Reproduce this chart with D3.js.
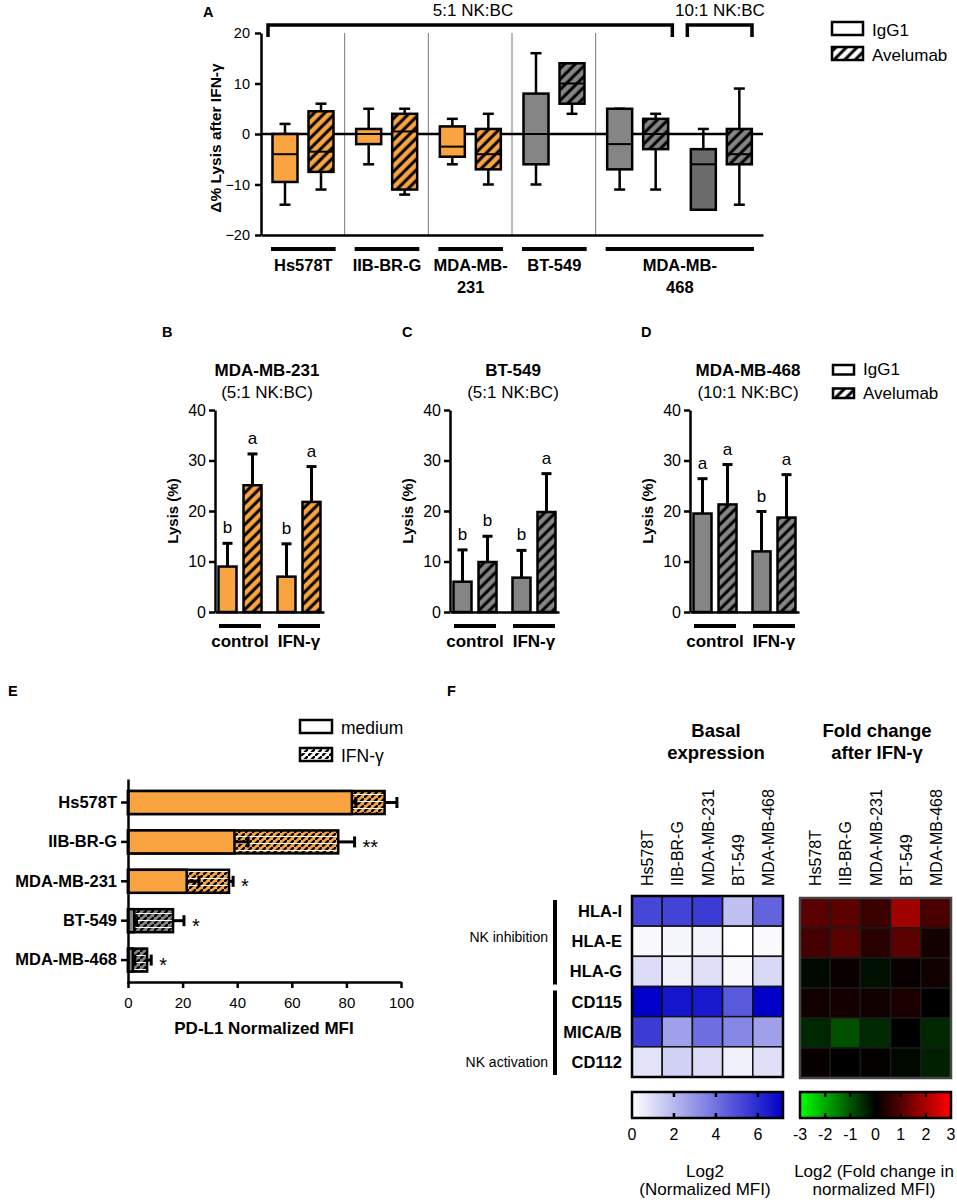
<!DOCTYPE html>
<html><head><meta charset="utf-8">
<script src="https://cdn.jsdelivr.net/npm/d3@7"></script>
<style>
body{margin:0;background:#fff;}
svg text{font-family:"Liberation Sans",Arial,sans-serif;fill:#000;}
</style></head>
<body><svg id="fig" width="957" height="1203"></svg>
<script>
// ---- data ----
const cellLines = ["Hs578T","IIB-BR-G","MDA-MB-231","BT-549","MDA-MB-468"];
const treatments = ["IgG1","Avelumab"];

// A: delta % lysis after IFN-g, boxes [min, q1, median, q3, max]
const slotsA = ["Hs578T","IIB-BR-G","MDA-MB-231","BT-549","MDA-MB-468 5:1","MDA-MB-468 10:1"];
const slotCellA = ["Hs578T","IIB-BR-G","MDA-MB-231","BT-549","MDA-MB-468","MDA-MB-468"];
const igg1Box = [[-14,-9.5,-4,0,2],[-6,-2,0,1,5],[-6,-4.5,-2.5,1.5,3],[-10,-6,0,8,16],[-11,-7,-2,5,5],[-15,-15,-6,-3,1]];
const avelBox = [[-11,-7.5,-3.5,4.5,6],[-12,-11,0.5,4,5],[-10,-7,-4,1,4],[4,6,10,14,14],[-11,-3,0,3,4],[-14,-6,-4,1,9]];
const ticksA = [-20,-10,0,10,20];
const labelLinesA = [["Hs578T"],["IIB-BR-G"],["MDA-MB-","231"],["BT-549"],["MDA-MB-","468"]];
const ratioLabels = ["5:1 NK:BC","10:1 NK:BC"];

// B-D: lysis (%) mean and mean+SD
const panelsBD = ["MDA-MB-231","BT-549","MDA-MB-468"];
const panelRatioBD = ["(5:1 NK:BC)","(5:1 NK:BC)","(10:1 NK:BC)"];
const conditionsBD = ["control","IFN-γ"];
const igg1Mean = [[9,7],[6,6.8],[19.5,12]];
const igg1Top = [[13.6,13.5],[12.3,12.2],[26.4,19.9]];
const avelMean = [[25.1,21.8],[9.9,19.8],[21.3,18.7]];
const avelTop = [[31.3,28.8],[15,27.4],[29.2,27.2]];
const lettersIgg1 = [["b","b"],["b","b"],["a","b"]];
const lettersAvel = [["a","a"],["b","a"],["a","a"]];
const ticksBD = [0,10,20,30,40];

// E: PD-L1 normalized MFI
const mfiMedium = [82,39,21.5,2.3,1.8];
const mfiMediumSd = [1.5,5,4.5,0.8,0.7];
const mfiIfn = [94,77,37,16.5,7];
const mfiIfnSd = [4.5,6,1.5,4,1.5];
const starsE = ["","**","*","*","*"];
const ticksE = [0,20,40,60,80,100];

// F: heatmaps
const markers = ["HLA-I","HLA-E","HLA-G","CD115","MICA/B","CD112"];
const basal = [
  [5.2,5.3,5.5,1.8,4.4],
  [0.2,0.25,0.35,0,0.15],
  [1.0,0.4,0.9,0.2,1.1],
  [7.2,6.6,6.5,4.7,7.2],
  [5.5,2.7,4.1,3.4,2.7],
  [0.8,1.3,1.0,0.4,0.9]];
const foldChange = [
  [1.06,1.08,0.7,1.88,0.87],
  [0.8,1.06,0.47,1.06,0.24],
  [-0.12,0.12,-0.19,0.09,0.19],
  [0.19,0.24,0.19,0.33,0],
  [-0.47,-0.94,-0.49,0,-0.47],
  [0.09,0,0.05,-0.09,-0.38]];
const markerGroups = ["NK inhibition","NK activation"];
const basalTicks = [0,2,4,6];
const foldTicks = [-3,-2,-1,0,1,2,3];

// ---- drawing ----
const svg = d3.select("#fig");
const defs = svg.append("defs");
const ORANGE = "#F9A441", GRAY = "#858585";
const cellColor = d3.scaleOrdinal().domain(cellLines).range([ORANGE,ORANGE,ORANGE,GRAY,GRAY]);

function hatch(id, bg) {
  const p = defs.append("pattern").attr("id", id).attr("patternUnits","userSpaceOnUse")
    .attr("width",7.5).attr("height",7.5).attr("patternTransform","rotate(45)");
  p.append("rect").attr("width",7.5).attr("height",7.5).attr("fill",bg);
  p.append("line").attr("x1",2).attr("x2",2).attr("y1",0).attr("y2",7.5)
    .attr("stroke","#000").attr("stroke-width",3);
}
function brick(id, bg) {
  const p = defs.append("pattern").attr("id", id).attr("patternUnits","userSpaceOnUse")
    .attr("width",7).attr("height",7);
  p.append("rect").attr("width",7).attr("height",7).attr("fill",bg);
  p.append("path").attr("d","M-1,8 L8,-1").attr("stroke","#000").attr("stroke-width",2.4);
  p.append("line").attr("x1",0).attr("x2",7).attr("y1",3.5).attr("y2",3.5)
    .attr("stroke","#fff").attr("stroke-width",1.1);
}
hatch("hOr", ORANGE); hatch("hGr", GRAY); hatch("hWh", "#fff");
brick("bOr", ORANGE); brick("bGr", GRAY); brick("bWh", "#fff");
const hatchId = c => c === ORANGE ? "url(#hOr)" : "url(#hGr)";
const brickId = c => c === ORANGE ? "url(#bOr)" : "url(#bGr)";

function styleAxis(g, size, bold) {
  g.attr("font-family","Liberation Sans, Arial, sans-serif").attr("font-size",size)
   .attr("font-weight", bold ? "bold" : "normal");
  g.selectAll("path.domain, .tick line").attr("stroke","#000").attr("stroke-width",2.5);
}
function panelLabel(t, x, y) {
  svg.append("text").attr("x",x).attr("y",y).attr("font-size",14.5).attr("font-weight","bold").text(t);
}
function legend(x, y, w, h, gap, texts, fills, size) {
  texts.forEach((t,i) => {
    svg.append("rect").attr("x",x).attr("y",y+i*gap).attr("width",w).attr("height",h)
      .attr("fill",fills[i]).attr("stroke","#000").attr("stroke-width",2.5);
    svg.append("text").attr("x",x+w+9).attr("y",y+i*gap+h+0.5).attr("font-size",size).text(t);
  });
}

// ===== Panel A =====
panelLabel("A", 203, 17);
const yA = d3.scaleLinear().domain([-20,20]).range([235,33]);
const xSlot = d3.scaleBand().domain(slotsA).range([261,763]);
const xIn = d3.scalePoint().domain(treatments).range([24,60]);
const bw = xSlot.bandwidth();

// separators
slotsA.slice(1,5).forEach(s => {
  svg.append("line").attr("x1",xSlot(s)).attr("x2",xSlot(s)).attr("y1",yA(20)).attr("y2",yA(-20))
    .attr("stroke","#777").attr("stroke-width",1);
});
svg.append("line").attr("x1",261).attr("x2",763).attr("y1",yA(0)).attr("y2",yA(0))
  .attr("stroke","#000").attr("stroke-width",2.5);

const gA = svg.append("g");
slotsA.forEach((s,i) => {
  [igg1Box[i], avelBox[i]].forEach((b,j) => {
    const cx = xSlot(s) + xIn(treatments[j]);
    const col = (i === 5 && j === 0) ? "#6c6c6c" : cellColor(slotCellA[i]);
    const g = gA.append("g");
    g.append("line").attr("x1",cx).attr("x2",cx).attr("y1",yA(b[0])).attr("y2",yA(b[4]))
      .attr("stroke","#000").attr("stroke-width",2.5);
    [b[0],b[4]].forEach(v => g.append("line").attr("x1",cx-5.5).attr("x2",cx+5.5)
      .attr("y1",yA(v)).attr("y2",yA(v)).attr("stroke","#000").attr("stroke-width",2.5));
    g.append("rect").attr("x",cx-12.5).attr("y",yA(b[3])).attr("width",25)
      .attr("height",yA(b[1])-yA(b[3])).attr("fill", j ? hatchId(cellColor(slotCellA[i])) : col)
      .attr("stroke","#000").attr("stroke-width",2.5);
    g.append("line").attr("x1",cx-12.5).attr("x2",cx+12.5).attr("y1",yA(b[2])).attr("y2",yA(b[2]))
      .attr("stroke","#000").attr("stroke-width",2);
  });
});
const axA = svg.append("g").attr("transform","translate(261,0)")
  .call(d3.axisLeft(yA).tickValues(ticksA).tickSize(6).tickSizeOuter(0).tickPadding(5));
styleAxis(axA, 14.5);
const axAb = svg.append("g").attr("transform",`translate(0,${yA(-20)})`)
  .call(d3.axisBottom(xSlot).tickSize(0).tickFormat(""));
styleAxis(axAb, 14.5);
svg.append("text").attr("transform",`translate(221,${(yA(20)+yA(-20))/2+4}) rotate(-90)`)
  .attr("text-anchor","middle").attr("font-size",15.5).attr("font-weight","bold")
  .text("Δ% Lysis after IFN-γ");

// cell line labels under A
const spansA = [[0,0],[1,1],[2,2],[3,3],[4,5]];
labelLinesA.forEach((lines,i) => {
  const x0 = xSlot(slotsA[spansA[i][0]]) + 10, x1 = xSlot(slotsA[spansA[i][1]]) + bw - 9;
  svg.append("line").attr("x1",x0).attr("x2",x1).attr("y1",249).attr("y2",249)
    .attr("stroke","#000").attr("stroke-width",4);
  lines.forEach((l,k) => svg.append("text").attr("x",(x0+x1)/2).attr("y",271+k*22)
    .attr("text-anchor","middle").attr("font-size",16.5).attr("font-weight","bold").text(l));
});
// ratio brackets
[[0,4],[5,5]].forEach((sp,i) => {
  const x0 = xSlot(slotsA[sp[0]]) + (i ? 8 : 7), x1 = xSlot(slotsA[sp[1]]) + bw - (i ? 11 : 7);
  svg.append("path").attr("d",`M${x0},37 V25 H${x1} V37`).attr("fill","none")
    .attr("stroke","#000").attr("stroke-width",3.5);
  svg.append("text").attr("x", i ? 720 : 473).attr("y",16).attr("text-anchor","middle")
    .attr("font-size",17).text(ratioLabels[i]);
});
legend(832, 22, 31, 13, 25, treatments, ["#fff","url(#hWh)"], 17);

// ===== Panels B-D =====
const yBD = d3.scaleLinear().domain([0,40]).range([612,410]);
const axisXBD = [215,450,690];
const titleXBD = [267,513,748];
const xCond = d3.scalePoint().domain(conditionsBD).range([0,109]).padding(0.424);
["B","C","D"].forEach((L,p) => { panelLabel(L, [162,402,641][p], 337); });
panelsBD.forEach((name,p) => {
  const g = svg.append("g").attr("transform",`translate(${axisXBD[p]},0)`);
  const col = cellColor(name);
  conditionsBD.forEach((c,k) => {
    const gc = xCond(c);
    [[igg1Mean, igg1Top, lettersIgg1, -12.5],[avelMean, avelTop, lettersAvel, 12.5]].forEach((d,j) => {
      const cx = gc + d[3], m = d[0][p][k], top = d[1][p][k];
      g.append("line").attr("x1",cx).attr("x2",cx).attr("y1",yBD(m)).attr("y2",yBD(top))
        .attr("stroke","#000").attr("stroke-width",3);
      g.append("line").attr("x1",cx-5).attr("x2",cx+5).attr("y1",yBD(top)).attr("y2",yBD(top))
        .attr("stroke","#000").attr("stroke-width",3);
      g.append("rect").attr("x",cx-9).attr("y",yBD(m)).attr("width",18).attr("height",yBD(0)-yBD(m))
        .attr("fill", j ? hatchId(col) : col).attr("stroke","#000").attr("stroke-width",2.5);
      g.append("text").attr("x",cx).attr("y",yBD(top)-10).attr("text-anchor","middle")
        .attr("font-size",17).text(d[2][p][k]);
    });
    g.append("line").attr("x1",gc-21).attr("x2",gc+21).attr("y1",626).attr("y2",626)
      .attr("stroke","#000").attr("stroke-width",4);
    g.append("text").attr("x",gc).attr("y",647).attr("text-anchor","middle")
      .attr("font-size",17).attr("font-weight","bold").text(c);
  });
  const ay = g.append("g").call(d3.axisLeft(yBD).tickValues(ticksBD).tickSize(6).tickSizeOuter(0).tickPadding(3));
  styleAxis(ay, 16);
  const ab = g.append("g").attr("transform",`translate(0,${yBD(0)})`)
    .call(d3.axisBottom(d3.scaleLinear().range([0,109])).tickValues([]).tickSizeOuter(0));
  styleAxis(ab, 16);
  g.append("text").attr("transform",`translate(-37,${yBD(20)}) rotate(-90)`).attr("text-anchor","middle")
    .attr("font-size",15).attr("font-weight","bold").text("Lysis (%)");
  svg.append("text").attr("x",titleXBD[p]).attr("y",376).attr("text-anchor","middle")
    .attr("font-size",17).attr("font-weight","bold").text(name);
  svg.append("text").attr("x",titleXBD[p]).attr("y",398).attr("text-anchor","middle")
    .attr("font-size",17).text(panelRatioBD[p]);
});
legend(833, 365, 21, 9.5, 23.5, treatments, ["#fff","url(#hWh)"], 17);

// ===== Panel E =====
panelLabel("E", 8, 696);
const xE = d3.scaleLinear().domain([0,100]).range([128,401]);
const yE = d3.scaleBand().domain(cellLines).range([779,983.6]).paddingInner(0.416).paddingOuter(0.305);
const gE = svg.append("g");
cellLines.forEach((c,i) => {
  const y0 = yE(c), h = yE.bandwidth(), col = cellColor(c), cy = y0 + h/2;
  gE.append("rect").attr("x",xE(0)).attr("y",y0).attr("width",xE(mfiIfn[i])-xE(0)).attr("height",h)
    .attr("fill",brickId(col)).attr("stroke","#000").attr("stroke-width",2.5);
  gE.append("rect").attr("x",xE(0)).attr("y",y0).attr("width",xE(mfiMedium[i])-xE(0)).attr("height",h)
    .attr("fill",col).attr("stroke","#000").attr("stroke-width",2.5);
  [[mfiMedium[i],mfiMediumSd[i]],[mfiIfn[i],mfiIfnSd[i]]].forEach(([m,sd]) => {
    gE.append("line").attr("x1",xE(m)).attr("x2",xE(m+sd)).attr("y1",cy).attr("y2",cy)
      .attr("stroke","#000").attr("stroke-width",3);
    gE.append("line").attr("x1",xE(m+sd)).attr("x2",xE(m+sd)).attr("y1",cy-5.5).attr("y2",cy+5.5)
      .attr("stroke","#000").attr("stroke-width",3);
  });
  gE.append("text").attr("x",xE(mfiIfn[i]+mfiIfnSd[i])+8).attr("y",cy+12)
    .attr("font-size",20).text(starsE[i]);
});
const axEy = svg.append("g").attr("transform","translate(128,0)")
  .call(d3.axisLeft(yE).tickSize(7).tickSizeOuter(0).tickPadding(4));
styleAxis(axEy, 16.5, true);
const axEx = svg.append("g").attr("transform","translate(0,982)")
  .call(d3.axisBottom(xE).tickValues(ticksE).tickSize(6).tickSizeOuter(0).tickPadding(9.5));
styleAxis(axEx, 15);
svg.append("text").attr("x",264).attr("y",1034).attr("text-anchor","middle")
  .attr("font-size",17).attr("font-weight","bold").text("PD-L1 Normalized MFI");
legend(300, 720, 32, 13, 28, ["medium","IFN-γ"], ["#fff","url(#bWh)"], 17.5);

// ===== Panel F =====
panelLabel("F", 447, 696);
const basalColor = d3.scaleLinear().domain([0,7.2]).range(["#ffffff","#0000c8"]);
const foldColor = d3.scaleLinear().domain([-3,0,3]).range(["#00ff00","#000000","#ff0000"]);
function heatmap(x0, x1, y0, y1, values, color, cellStroke, border, titles, tx) {
  const xc = d3.scaleBand().domain(cellLines).range([x0,x1]);
  const yr = d3.scaleBand().domain(markers).range([y0,y1]);
  markers.forEach((m,r) => cellLines.forEach((c,k) => {
    svg.append("rect").attr("x",xc(c)).attr("y",yr(m)).attr("width",xc.bandwidth()).attr("height",yr.bandwidth())
      .attr("fill",color(values[r][k])).attr("stroke",cellStroke).attr("stroke-width",1.5);
  }));
  svg.append("rect").attr("x",x0).attr("y",y0).attr("width",x1-x0).attr("height",y1-y0)
    .attr("fill","none").attr("stroke",border).attr("stroke-width",2.5);
  cellLines.forEach(c => svg.append("text")
    .attr("transform",`translate(${xc(c)+xc.bandwidth()/2+6},886) rotate(-90)`)
    .attr("font-size",16).text(c));
  titles.forEach((t,i) => svg.append("text").attr("x",tx).attr("y",737+i*22).attr("text-anchor","middle")
    .attr("font-size",18.5).attr("font-weight","bold").text(t));
  return yr;
}
const yRows = heatmap(632, 783, 896, 1077, basal, basalColor, "#111", "#000", ["Basal","expression"], 716);
heatmap(800, 951, 898, 1078, foldChange, foldColor, "#1a1a1a", "#444", ["Fold change","after IFN-γ"], 877);

markers.forEach(m => svg.append("text").attr("x",622).attr("y",yRows(m)+yRows.bandwidth()/2+6)
  .attr("text-anchor","end").attr("font-size",16.5).attr("font-weight","bold").text(m));
[[0,2],[3,5]].forEach((sp,i) => {
  const a = yRows(markers[sp[0]]) + 4, b = yRows(markers[sp[1]]) + yRows.bandwidth() - 2;
  svg.append("rect").attr("x",553).attr("y",a).attr("width",4).attr("height",b-a).attr("fill","#000");
  const ly = yRows(markers[sp[0]+1]) + yRows.bandwidth()/2 + (i ? 30 : -4);
  svg.append("text").attr("x",548).attr("y",ly+5).attr("text-anchor","end").attr("font-size",14).text(markerGroups[i]);
});

// colour bars
function colorBar(id, x0, x1, domain, color, ticks, t1, t2, tx) {
  const sc = d3.scaleLinear().domain(domain).range([x0,x1]);
  const grad = defs.append("linearGradient").attr("id",id);
  d3.range(0,1.0001,0.05).forEach(f => grad.append("stop").attr("offset",f)
    .attr("stop-color",color(domain[0]+f*(domain[1]-domain[0]))));
  svg.append("rect").attr("x",x0).attr("y",1092).attr("width",x1-x0).attr("height",26)
    .attr("fill",`url(#${id})`).attr("stroke","#000").attr("stroke-width",2.5);
  ticks.forEach(t => {
    if (sc(t) > x0 + 2 && sc(t) < x1 - 2) {
      [[1092,1097],[1113,1118]].forEach(([a,b]) => svg.append("line").attr("x1",sc(t)).attr("x2",sc(t))
        .attr("y1",a).attr("y2",b).attr("stroke","#000").attr("stroke-width",2.5));
    }
    svg.append("text").attr("x",sc(t)).attr("y",1140).attr("text-anchor","middle").attr("font-size",16).text(t);
  });
  svg.append("text").attr("x",tx).attr("y",1177).attr("text-anchor","middle").attr("font-size",17).text(t1);
  svg.append("text").attr("x",tx).attr("y",1195).attr("text-anchor","middle").attr("font-size",17).text(t2);
}
colorBar("gBasal", 632, 783, [0,7.2], basalColor, basalTicks, "Log2", "(Normalized MFI)", 705);
colorBar("gFold", 800, 951, [-3,3], foldColor, foldTicks, "Log2 (Fold change in", "normalized MFI)", 874);
</script>
</body></html>
